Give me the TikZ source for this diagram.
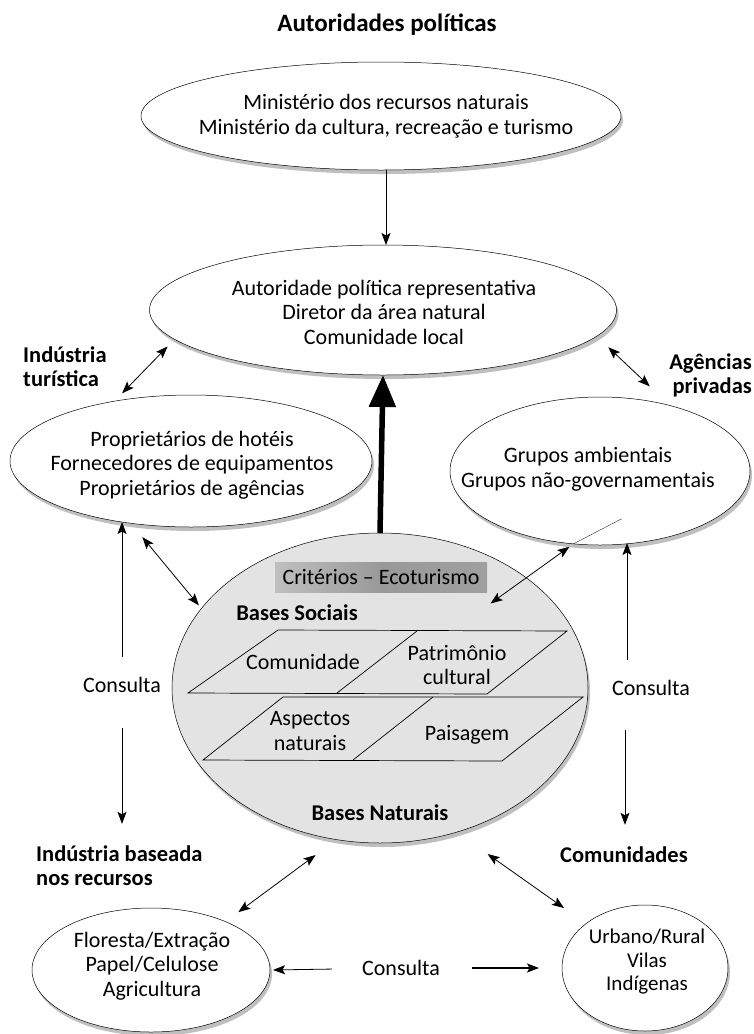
\documentclass[tikz,border=0pt]{standalone}
\usepackage{fontspec}
\setmainfont{Carlito}
\usetikzlibrary{shapes.geometric,arrows.meta,shadows}
\begin{document}
\begin{tikzpicture}[x=1pt,y=-1pt,
  ell/.style={ellipse,draw=black,line width=0.5pt,fill=white,inner sep=0pt,outer sep=0pt,
     drop shadow={shadow xshift=2pt,shadow yshift=-4pt,fill=gray!50,opacity=1}},
  txt/.style={font=\fontsize{22}{24.5}\selectfont,align=center,inner sep=0pt},
  lbl/.style={font=\fontsize{22.5}{24}\selectfont\bfseries,inner sep=0pt},
  arr/.style={-{Stealth[length=12pt,width=9pt,inset=2.5pt]},line width=0.8pt},
  darr/.style={{Stealth[length=12pt,width=9pt,inset=2.5pt]}-{Stealth[length=12pt,width=9pt,inset=2.5pt]},line width=0.8pt},
  para/.style={draw=black,line width=0.7pt},
]
\useasboundingbox[fill=white] (0,0) rectangle (753,1034);

% title
\node[lbl,font=\fontsize{25}{28}\selectfont\bfseries] (title) at (387,25) {Autoridades políticas};

% ellipses
\node[ell,minimum width=480pt,minimum height=108pt] (top) at (381,116) {};
\node[txt] (toptxt) at (386,116) {Ministério dos recursos naturais\\Ministério da cultura, recreação e turismo};

\node[ell,minimum width=467pt,minimum height=130pt] (mid) at (383,310) {};
\node[txt] (midtxt) at (384,312) {Autoridade política representativa\\Diretor da área natural\\Comunidade local};

\node[ell,minimum width=362pt,minimum height=132pt] (left) at (191,461) {};
\node[txt] (lefttxt) at (192,465) {Proprietários de hotéis\\Fornecedores de equipamentos\\Proprietários de agências};

\node[ell,minimum width=300pt,minimum height=148pt] (right) at (600,471) {};
\node[txt] (righttxt) at (588,469) {Grupos ambientais\\Grupos não-governamentais};

\node[ell,fill=gray!22,minimum width=416pt,minimum height=310pt] (central) at (380,688) {};

\node[ell,minimum width=238pt,minimum height=124pt] (bl) at (151,970) {};
\node[txt] (bltxt) at (152,966) {Floresta/Extração\\Papel/Celulose\\Agricultura};

\node[ell,minimum width=166pt,minimum height=126pt] (br) at (645,968) {};
\node[txt,font=\fontsize{21}{23.5}\selectfont] (brtxt) at (647,962) {Urbano/Rural\\Vilas\\Indígenas};

% central content
\node[txt,minimum width=212pt,minimum height=30pt,left color=gray!50,right color=gray!75,middle color=gray!80] (crit) at (381,577) {Critérios -- Ecoturismo};
\node[lbl] (bs) at (297,613) {Bases Sociais};
\node[lbl] (bn) at (380,813) {Bases Naturais};

\draw[para] (278,630) -- (567,631) -- (487,694) -- (188,693) -- cycle;
\draw[para] (417,631) -- (337,693);
\draw[para] (283,697) -- (583,697) -- (502,761) -- (203,760) -- cycle;
\draw[para] (433,697) -- (353,760);

\node[txt] (com) at (303,662) {Comunidade};
\node[txt] (pat) at (457,665) {Patrimônio\\cultural};
\node[txt] (asp) at (310,731) {Aspectos\\naturais};
\node[txt] (pai) at (467,735) {Paisagem};

% side labels
\node[lbl,align=left,anchor=west] (it) at (23,367) {Indústria\\turística};
\node[lbl,align=right,anchor=east] (ap) at (752,375) {Agências\\privadas};
\node[lbl,align=left,anchor=west] (ib) at (36,866) {Indústria baseada\\nos recursos};
\node[lbl,anchor=west] (cm) at (560,855) {Comunidades};

\node[txt] (cl) at (122,685) {Consulta};
\node[txt] (cr) at (651,688) {Consulta};
\node[txt] (cb) at (401,968) {Consulta};

% connectors
\draw[arr] ([xshift=5pt]top.south) -- ([xshift=3pt]mid.north) ;
\draw[line width=5.5pt,-{Triangle[length=32pt,width=26pt]}] (central.north) -- (mid.south);

\draw[darr,shorten <=11pt,shorten >=10pt] (left.142) -- (mid.188);
\draw[darr,shorten <=16pt,shorten >=28pt] (mid.353) -- (right.43);
\draw[darr,shorten <=18pt,shorten >=4pt] (left.226) -- (central.156);
\draw[darr,shorten <=-44pt,shorten >=5pt] (central.37) -- (right.250);
\draw[line width=0.3pt] (right.250) -- ++(48,-25);

\draw[arr,shorten <=28pt,shorten >=-5pt] (cl.center) -- (cl.center |- left.south);
\draw[arr,shorten <=43pt,shorten >=22pt] (cl.center) -- (cl.center |- ib.north);
\draw[arr,shorten <=28pt,shorten >=-2pt] ([xshift=-24pt]cr.center) -- ([xshift=-24pt]cr.center |- right.south);
\draw[arr,shorten <=42pt,shorten >=22pt] ([xshift=-26pt]cr.center) -- ([xshift=-26pt]cr.center |- cm.north);

\draw[darr,shorten <=26pt,shorten >=16pt] (central.254) -- (bl.33);
\draw[darr,shorten <=38pt,shorten >=27pt] (central.298) -- (br.143);

\draw[arr,shorten <=69pt,shorten >=3pt] (cb.center) -- (bl.east);
\draw[arr,line width=1.2pt,shorten <=71pt,shorten >=23pt] (cb.center) -- (br.west);
\end{tikzpicture}
\end{document}
